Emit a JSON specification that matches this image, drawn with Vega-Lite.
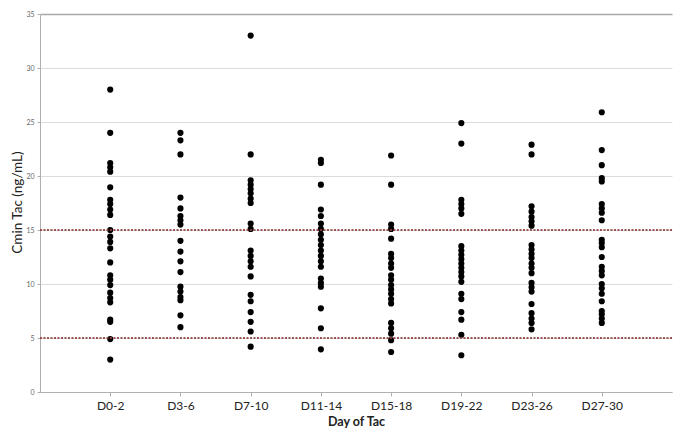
{
  "$schema": "https://vega.github.io/schema/vega-lite/v6.json",
  "autosize": {"type": "none"},
  "padding": {"left": 40, "top": 14, "right": 13, "bottom": 48},
  "width": 632,
  "height": 378,
  "background": "white",
  "config": {
    "view": {"stroke": null},
    "font": "Lato"
  },
  "datasets": {
    "pts": [
      {"day": "D0-2", "cmin": 28.0}, {"day": "D0-2", "cmin": 24.0}, {"day": "D0-2", "cmin": 21.2}, {"day": "D0-2", "cmin": 20.8}, {"day": "D0-2", "cmin": 20.4},
      {"day": "D0-2", "cmin": 18.95}, {"day": "D0-2", "cmin": 17.8}, {"day": "D0-2", "cmin": 17.4}, {"day": "D0-2", "cmin": 16.9}, {"day": "D0-2", "cmin": 16.4},
      {"day": "D0-2", "cmin": 15.0}, {"day": "D0-2", "cmin": 14.4}, {"day": "D0-2", "cmin": 13.9}, {"day": "D0-2", "cmin": 13.3}, {"day": "D0-2", "cmin": 12.0},
      {"day": "D0-2", "cmin": 10.8}, {"day": "D0-2", "cmin": 10.4}, {"day": "D0-2", "cmin": 9.9}, {"day": "D0-2", "cmin": 9.2}, {"day": "D0-2", "cmin": 8.7},
      {"day": "D0-2", "cmin": 8.3}, {"day": "D0-2", "cmin": 6.7}, {"day": "D0-2", "cmin": 6.5}, {"day": "D0-2", "cmin": 4.9}, {"day": "D0-2", "cmin": 3.0},

      {"day": "D3-6", "cmin": 24.0}, {"day": "D3-6", "cmin": 23.3}, {"day": "D3-6", "cmin": 22.0}, {"day": "D3-6", "cmin": 18.0}, {"day": "D3-6", "cmin": 17.0},
      {"day": "D3-6", "cmin": 16.3}, {"day": "D3-6", "cmin": 15.9}, {"day": "D3-6", "cmin": 15.5}, {"day": "D3-6", "cmin": 14.0}, {"day": "D3-6", "cmin": 13.0},
      {"day": "D3-6", "cmin": 12.1}, {"day": "D3-6", "cmin": 11.1}, {"day": "D3-6", "cmin": 9.75}, {"day": "D3-6", "cmin": 9.3}, {"day": "D3-6", "cmin": 8.8},
      {"day": "D3-6", "cmin": 8.5}, {"day": "D3-6", "cmin": 7.1}, {"day": "D3-6", "cmin": 6.0},

      {"day": "D7-10", "cmin": 33.0}, {"day": "D7-10", "cmin": 22.0}, {"day": "D7-10", "cmin": 19.6}, {"day": "D7-10", "cmin": 19.2}, {"day": "D7-10", "cmin": 18.8},
      {"day": "D7-10", "cmin": 18.4}, {"day": "D7-10", "cmin": 17.9}, {"day": "D7-10", "cmin": 17.5}, {"day": "D7-10", "cmin": 15.6}, {"day": "D7-10", "cmin": 15.1},
      {"day": "D7-10", "cmin": 13.1}, {"day": "D7-10", "cmin": 12.6}, {"day": "D7-10", "cmin": 12.1}, {"day": "D7-10", "cmin": 11.6}, {"day": "D7-10", "cmin": 10.7},
      {"day": "D7-10", "cmin": 9.0}, {"day": "D7-10", "cmin": 8.4}, {"day": "D7-10", "cmin": 7.4}, {"day": "D7-10", "cmin": 6.5}, {"day": "D7-10", "cmin": 5.6},
      {"day": "D7-10", "cmin": 4.2},

      {"day": "D11-14", "cmin": 21.5}, {"day": "D11-14", "cmin": 21.2}, {"day": "D11-14", "cmin": 19.2}, {"day": "D11-14", "cmin": 16.9}, {"day": "D11-14", "cmin": 16.3},
      {"day": "D11-14", "cmin": 15.6}, {"day": "D11-14", "cmin": 15.1}, {"day": "D11-14", "cmin": 14.6}, {"day": "D11-14", "cmin": 14.1}, {"day": "D11-14", "cmin": 13.6},
      {"day": "D11-14", "cmin": 13.1}, {"day": "D11-14", "cmin": 12.6}, {"day": "D11-14", "cmin": 12.1}, {"day": "D11-14", "cmin": 11.6}, {"day": "D11-14", "cmin": 10.5},
      {"day": "D11-14", "cmin": 10.1}, {"day": "D11-14", "cmin": 9.75}, {"day": "D11-14", "cmin": 7.75}, {"day": "D11-14", "cmin": 5.9}, {"day": "D11-14", "cmin": 3.95},

      {"day": "D15-18", "cmin": 21.9}, {"day": "D15-18", "cmin": 19.2}, {"day": "D15-18", "cmin": 15.5}, {"day": "D15-18", "cmin": 15.1}, {"day": "D15-18", "cmin": 14.2},
      {"day": "D15-18", "cmin": 12.8}, {"day": "D15-18", "cmin": 12.4}, {"day": "D15-18", "cmin": 11.9}, {"day": "D15-18", "cmin": 11.5}, {"day": "D15-18", "cmin": 10.8},
      {"day": "D15-18", "cmin": 10.4}, {"day": "D15-18", "cmin": 9.9}, {"day": "D15-18", "cmin": 9.5}, {"day": "D15-18", "cmin": 9.1}, {"day": "D15-18", "cmin": 8.6},
      {"day": "D15-18", "cmin": 8.2}, {"day": "D15-18", "cmin": 6.4}, {"day": "D15-18", "cmin": 5.9}, {"day": "D15-18", "cmin": 5.4}, {"day": "D15-18", "cmin": 4.8},
      {"day": "D15-18", "cmin": 3.7},

      {"day": "D19-22", "cmin": 24.9}, {"day": "D19-22", "cmin": 23.0}, {"day": "D19-22", "cmin": 17.8}, {"day": "D19-22", "cmin": 17.4}, {"day": "D19-22", "cmin": 17.0},
      {"day": "D19-22", "cmin": 16.5}, {"day": "D19-22", "cmin": 13.5}, {"day": "D19-22", "cmin": 13.1}, {"day": "D19-22", "cmin": 12.7}, {"day": "D19-22", "cmin": 12.3},
      {"day": "D19-22", "cmin": 11.9}, {"day": "D19-22", "cmin": 11.5}, {"day": "D19-22", "cmin": 11.1}, {"day": "D19-22", "cmin": 10.7}, {"day": "D19-22", "cmin": 10.2},
      {"day": "D19-22", "cmin": 9.1}, {"day": "D19-22", "cmin": 8.6}, {"day": "D19-22", "cmin": 7.4}, {"day": "D19-22", "cmin": 6.7}, {"day": "D19-22", "cmin": 5.3},
      {"day": "D19-22", "cmin": 3.4},

      {"day": "D23-26", "cmin": 22.9}, {"day": "D23-26", "cmin": 22.0}, {"day": "D23-26", "cmin": 17.2}, {"day": "D23-26", "cmin": 16.7}, {"day": "D23-26", "cmin": 16.2},
      {"day": "D23-26", "cmin": 15.8}, {"day": "D23-26", "cmin": 15.4}, {"day": "D23-26", "cmin": 13.6}, {"day": "D23-26", "cmin": 13.2}, {"day": "D23-26", "cmin": 12.8},
      {"day": "D23-26", "cmin": 12.4}, {"day": "D23-26", "cmin": 11.9}, {"day": "D23-26", "cmin": 11.5}, {"day": "D23-26", "cmin": 11.0}, {"day": "D23-26", "cmin": 10.1},
      {"day": "D23-26", "cmin": 9.7}, {"day": "D23-26", "cmin": 9.3}, {"day": "D23-26", "cmin": 8.15}, {"day": "D23-26", "cmin": 7.3}, {"day": "D23-26", "cmin": 6.8},
      {"day": "D23-26", "cmin": 6.4}, {"day": "D23-26", "cmin": 5.8},

      {"day": "D27-30", "cmin": 25.9}, {"day": "D27-30", "cmin": 22.4}, {"day": "D27-30", "cmin": 21.0}, {"day": "D27-30", "cmin": 19.8}, {"day": "D27-30", "cmin": 19.5},
      {"day": "D27-30", "cmin": 17.4}, {"day": "D27-30", "cmin": 17.0}, {"day": "D27-30", "cmin": 16.6}, {"day": "D27-30", "cmin": 15.9}, {"day": "D27-30", "cmin": 14.1},
      {"day": "D27-30", "cmin": 13.8}, {"day": "D27-30", "cmin": 13.4}, {"day": "D27-30", "cmin": 12.5}, {"day": "D27-30", "cmin": 11.6}, {"day": "D27-30", "cmin": 11.2},
      {"day": "D27-30", "cmin": 10.8}, {"day": "D27-30", "cmin": 10.0}, {"day": "D27-30", "cmin": 9.6}, {"day": "D27-30", "cmin": 9.1}, {"day": "D27-30", "cmin": 8.4},
      {"day": "D27-30", "cmin": 7.5}, {"day": "D27-30", "cmin": 7.2}, {"day": "D27-30", "cmin": 6.8}, {"day": "D27-30", "cmin": 6.4}
    ],
    "refs": [{"level": 5}, {"level": 15}]
  },
  "layer": [
    {
      "data": {"name": "pts"},
      "mark": {"type": "point", "filled": true, "shape": "circle", "color": "#000000", "opacity": 1, "size": 38},
      "encoding": {
        "x": {
          "field": "day", "type": "ordinal",
          "sort": ["D0-2", "D3-6", "D7-10", "D11-14", "D15-18", "D19-22", "D23-26", "D27-30"],
          "scale": {"type": "point", "padding": 1},
          "axis": {
            "title": "Day of Tac",
            "titleFont": "Lato", "titleFontSize": 12.5, "titleFontWeight": "bold", "titleColor": "#222222", "titlePadding": 4,
            "labelFont": "Lato", "labelFontSize": 12, "labelColor": "#222222", "labelAngle": 0, "labelPadding": 4,
            "domainColor": "#b0b0b0", "tickColor": "#b0b0b0", "tickSize": 4, "grid": false
          }
        },
        "y": {
          "field": "cmin", "type": "quantitative",
          "scale": {"domain": [0, 35], "nice": false, "zero": true},
          "axis": {
            "title": "Cmin Tac (ng/mL)",
            "titleFont": "Lato", "titleFontSize": 13.5, "titleFontWeight": "normal", "titleColor": "#222222",
            "titleX": -16, "titleY": 188,
            "values": [0, 5, 10, 15, 20, 25, 30, 35],
            "labelFont": "Lato", "labelFontSize": 7, "labelColor": "#666666", "labelPadding": 3,
            "domainColor": "#b0b0b0", "tickColor": "#b0b0b0", "tickSize": 3,
            "grid": true,
            "gridColor": {"condition": {"test": "datum.value === 35", "value": "#a8a8a8"}, "value": "#dcdcdc"},
            "gridWidth": {"condition": {"test": "datum.value === 35", "value": 1.5}, "value": 1}
          }
        }
      }
    },
    {
      "data": {"name": "refs"},
      "mark": {"type": "rule", "color": "#8e3b3b", "strokeWidth": 2, "strokeDash": [2, 1.5], "opacity": 0.85},
      "encoding": {
        "y": {"field": "level", "type": "quantitative"}
      }
    }
  ]
}
